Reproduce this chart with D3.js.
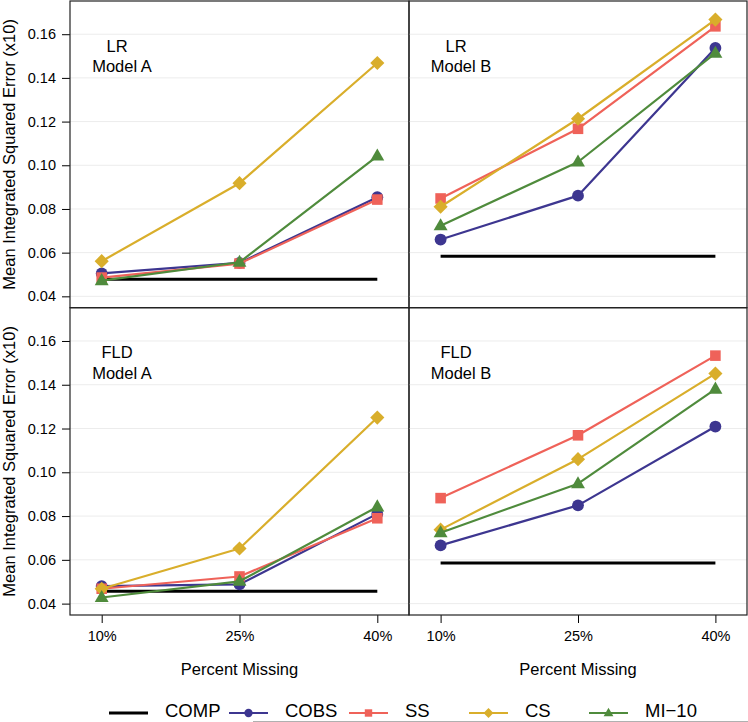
<!DOCTYPE html>
<html>
<head>
<meta charset="utf-8">
<script src="https://cdn.jsdelivr.net/npm/d3@7"></script>
<style>
  html, body { margin: 0; padding: 0; background: #fff; }
  svg { display: block; }
  text { font-family: "Liberation Sans", Arial, Helvetica, sans-serif; fill: #000; }
</style>
</head>
<body>
<svg id="chart" width="748" height="722"></svg>
<script>
// ---------------- data ----------------
const categories = ["10%", "25%", "40%"];
const yTicks = [0.04, 0.06, 0.08, 0.10, 0.12, 0.14, 0.16];
const seriesNames = ["COMP", "COBS", "SS", "CS", "MI\u221210"];

// LR, Model A
const lrA_COMP = [0.0478, 0.0478, 0.0478];
const lrA_COBS = [0.0505, 0.0553, 0.0854];
const lrA_SS   = [0.0486, 0.0550, 0.0843];
const lrA_CS   = [0.0561, 0.0918, 0.1468];
const lrA_MI   = [0.0472, 0.0556, 0.1042];
// LR, Model B
const lrB_COMP = [0.0584, 0.0584, 0.0584];
const lrB_COBS = [0.0660, 0.0861, 0.1537];
const lrB_SS   = [0.0848, 0.1167, 0.1636];
const lrB_CS   = [0.0810, 0.1213, 0.1667];
const lrB_MI   = [0.0723, 0.1015, 0.1513];
// FLD, Model A
const fldA_COMP = [0.0456, 0.0456, 0.0456];
const fldA_COBS = [0.0480, 0.0488, 0.0810];
const fldA_SS   = [0.0468, 0.0524, 0.0790];
const fldA_CS   = [0.0468, 0.0652, 0.1250];
const fldA_MI   = [0.0428, 0.0502, 0.0842];
// FLD, Model B
const fldB_COMP = [0.0586, 0.0586, 0.0586];
const fldB_COBS = [0.0666, 0.0849, 0.1209];
const fldB_SS   = [0.0882, 0.1169, 0.1533];
const fldB_CS   = [0.0738, 0.1060, 0.1451];
const fldB_MI   = [0.0724, 0.0948, 0.1380];

const panelLabels = [["LR", "Model A"], ["LR", "Model B"], ["FLD", "Model A"], ["FLD", "Model B"]];

// ---------------- styling ----------------
const colors = { "COMP": "#000000", "COBS": "#3d3690", "SS": "#ef6259", "CS": "#d9ae2b", "MI\u221210": "#4f8b3c" };
const shapes = { "COMP": null, "COBS": "circle", "SS": "square", "CS": "diamond", "MI\u221210": "triangle" };

const panels = [
  { label: panelLabels[0], series: [lrA_COMP, lrA_COBS, lrA_SS, lrA_CS, lrA_MI],  col: 0, row: 0 },
  { label: panelLabels[1], series: [lrB_COMP, lrB_COBS, lrB_SS, lrB_CS, lrB_MI],  col: 1, row: 0 },
  { label: panelLabels[2], series: [fldA_COMP, fldA_COBS, fldA_SS, fldA_CS, fldA_MI], col: 0, row: 1 },
  { label: panelLabels[3], series: [fldB_COMP, fldB_COBS, fldB_SS, fldB_CS, fldB_MI], col: 1, row: 1 }
];

const colX = [[70, 409], [409, 747]];
const rowY = [[1, 307.7], [307.7, 615]];
const yDomain = [0.0348, 0.1752];

const svg = d3.select("#chart");

function markerPath(shape, s) {
  if (shape === "circle") return d3.symbol().type(d3.symbolCircle).size(110 * s * s)();
  if (shape === "square") return d3.symbol().type(d3.symbolSquare).size(112 * s * s)();
  if (shape === "diamond") return d3.symbol().type(d3.symbolSquare).size(100 * s * s)();
  if (shape === "triangle") return d3.symbol().type(d3.symbolTriangle).size(84 * s * s)();
  return null;
}

function drawMarker(g, shape, color, x, y, s) {
  const p = g.append("path")
    .attr("d", markerPath(shape, s))
    .attr("fill", color);
  if (shape === "diamond") p.attr("transform", `translate(${x},${y}) rotate(45)`);
  else if (shape === "triangle") p.attr("transform", `translate(${x},${y + 0.5 * s})`);
  else p.attr("transform", `translate(${x},${y})`);
}

panels.forEach(pn => {
  const [x0, x1] = colX[pn.col];
  const [y0, y1] = rowY[pn.row];
  const x = d3.scalePoint().domain(categories).range([x0, x1]).padding(0.23);
  const y = d3.scaleLinear().domain(yDomain).range([y1, y0]);
  const g = svg.append("g");

  // grid lines
  g.selectAll("line.grid").data(yTicks).enter().append("line")
    .attr("x1", x0).attr("x2", x1)
    .attr("y1", d => y(d)).attr("y2", d => y(d))
    .attr("stroke", "#ececec").attr("stroke-width", 1);

  // series
  pn.series.forEach((vals, i) => {
    const name = seriesNames[i];
    const line = d3.line().x((d, j) => x(categories[j])).y(d => y(d));
    g.append("path").datum(vals)
      .attr("d", line)
      .attr("fill", "none")
      .attr("stroke", colors[name])
      .attr("stroke-width", name === "COMP" ? 3 : 2.2)
      .attr("stroke-linejoin", "round");
    if (shapes[name]) {
      vals.forEach((v, j) => drawMarker(g, shapes[name], colors[name], x(categories[j]), y(v), 1));
    }
  });

  // panel labels
  g.append("text").attr("x", x0 + 47).attr("y", y0 + 50.5)
    .attr("text-anchor", "middle").attr("font-size", "16.5px").text(pn.label[0]);
  g.append("text").attr("x", x0 + 52).attr("y", y0 + 70.8)
    .attr("text-anchor", "middle").attr("font-size", "16.5px").text(pn.label[1]);

  // y axis (left column only)
  if (pn.col === 0) {
    const ya = g.append("g").attr("transform", `translate(${x0},0)`)
      .call(d3.axisLeft(y).tickValues(yTicks).tickFormat(d3.format(".2f")).tickSize(8).tickPadding(6));
    ya.select(".domain").remove();
    ya.selectAll("line").attr("stroke", "#000");
    ya.selectAll("text").attr("font-size", "14.5px").attr("font-family", '"Liberation Sans", Arial, Helvetica, sans-serif');
    svg.append("text")
      .attr("transform", `translate(15,${(y0 + y1) / 2}) rotate(-90)`)
      .attr("text-anchor", "middle").attr("font-size", "16.5px")
      .text("Mean Integrated Squared Error (x10)");
  }
  // x axis (bottom row only)
  if (pn.row === 1) {
    const xa = g.append("g").attr("transform", `translate(0,${y1})`)
      .call(d3.axisBottom(x).tickSize(8).tickPadding(8));
    xa.select(".domain").remove();
    xa.selectAll("line").attr("stroke", "#000");
    xa.selectAll("text").attr("font-size", "14.5px").attr("font-family", '"Liberation Sans", Arial, Helvetica, sans-serif');
    svg.append("text")
      .attr("x", (x0 + x1) / 2).attr("y", 675)
      .attr("text-anchor", "middle").attr("font-size", "16.5px")
      .text("Percent Missing");
  }

  // panel border
  g.append("rect").attr("x", x0).attr("y", y0).attr("width", x1 - x0).attr("height", y1 - y0)
    .attr("fill", "none").attr("stroke", "#222").attr("stroke-width", 1.2);
});

// ---------------- legend ----------------
const legend = svg.append("g");
const legendX = d3.scalePoint().domain(seriesNames).range([109, 589]);
legend.append("line").attr("x1", 253).attr("x2", 748).attr("y1", 721.5).attr("y2", 721.5)
  .attr("stroke", "#b0b0b0").attr("stroke-width", 1);
seriesNames.forEach(name => {
  const lx = legendX(name);
  const ly = 713;
  legend.append("line").attr("x1", lx).attr("x2", lx + 39).attr("y1", ly).attr("y2", ly)
    .attr("stroke", colors[name]).attr("stroke-width", name === "COMP" ? 3 : 2.2);
  if (shapes[name]) drawMarker(legend, shapes[name], colors[name], lx + 19.5, ly, 0.7);
  legend.append("text").attr("x", lx + 56).attr("y", 717)
    .attr("font-size", "18.5px").text(name);
});
</script>
</body>
</html>
